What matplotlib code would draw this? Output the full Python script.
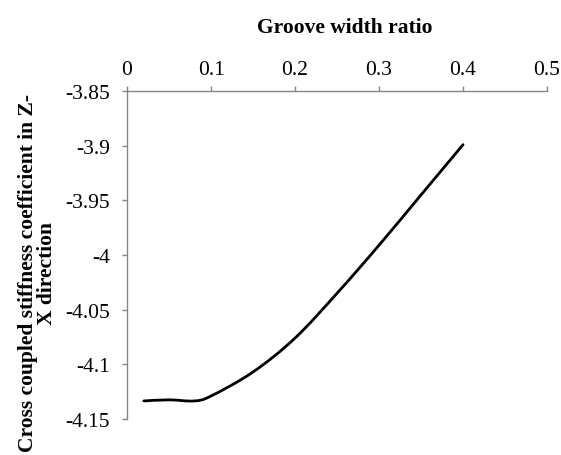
import matplotlib
matplotlib.use('Agg')
import matplotlib.pyplot as plt
from matplotlib.path import Path
from matplotlib.patches import PathPatch
from matplotlib.ticker import FuncFormatter
import numpy as np

# groove width ratio vs cross coupled stiffness (Z-X)
ratio = [0.02, 0.05, 0.08, 0.1, 0.15, 0.2, 0.25, 0.3, 0.35, 0.4]
kzx = [-4.1335, -4.1325, -4.1335, -4.129, -4.107, -4.076, -4.035, -3.991, -3.945, -3.899]

xticks = [0, 0.1, 0.2, 0.3, 0.4, 0.5]
yticks = [-3.85, -3.9, -3.95, -4, -4.05, -4.1, -4.15]

plt.rcParams['font.family'] = ['Liberation Serif', 'DejaVu Serif']

fig = plt.figure(figsize=(5.61, 4.56), dpi=100)
ax = fig.add_axes([0.2264, 0.079, 0.7487, 0.719])

# smooth line like excel: bezier segments through the points
pts = np.column_stack([ratio, kzx])
verts = [pts[0]]
codes = [Path.MOVETO]
n = len(pts)
for i in range(n - 1):
    p0 = pts[i - 1] if i > 0 else pts[i]
    p1 = pts[i]
    p2 = pts[i + 1]
    p3 = pts[i + 2] if i + 2 < n else pts[i + 1]
    c1 = p1 + (p2 - p0) / 6.0
    c2 = p2 - (p3 - p1) / 6.0
    verts += [c1, c2, p2]
    codes += [Path.CURVE4] * 3
patch = PathPatch(Path(verts, codes), facecolor='none', edgecolor='black',
                  lw=2.0, capstyle='round', joinstyle='round')
ax.add_patch(patch)

ax.set_xlim(0, 0.5)
ax.set_ylim(-4.15, -3.85)
ax.set_xticks(xticks)
ax.set_yticks(yticks)
fmt = FuncFormatter(lambda v, p: '%g' % round(v, 4))
ax.xaxis.set_major_formatter(fmt)
ax.yaxis.set_major_formatter(fmt)

ax.xaxis.tick_top()
ax.xaxis.set_label_position('top')
for s in ['bottom', 'right']:
    ax.spines[s].set_visible(False)
for s in ['top', 'left']:
    ax.spines[s].set_color('#868686')
    ax.spines[s].set_linewidth(1.0)
ax.tick_params(axis='both', direction='out', length=3.6, width=1.0,
               color='#868686', labelsize=15.5)
ax.tick_params(axis='x', pad=5)
ax.tick_params(axis='y', pad=8.6)

ax.set_xlabel('Groove width ratio', fontsize=15.5, fontweight='bold')
ax.xaxis.set_label_coords(0.519, 1.18)
ax.set_ylabel('Cross coupled stiffness coefficient in Z-\nX direction',
              fontsize=15.5, fontweight='bold', linespacing=0.95)
ax.yaxis.set_label_coords(-0.166, 0.448)

fig.savefig('out.png', dpi=100)
